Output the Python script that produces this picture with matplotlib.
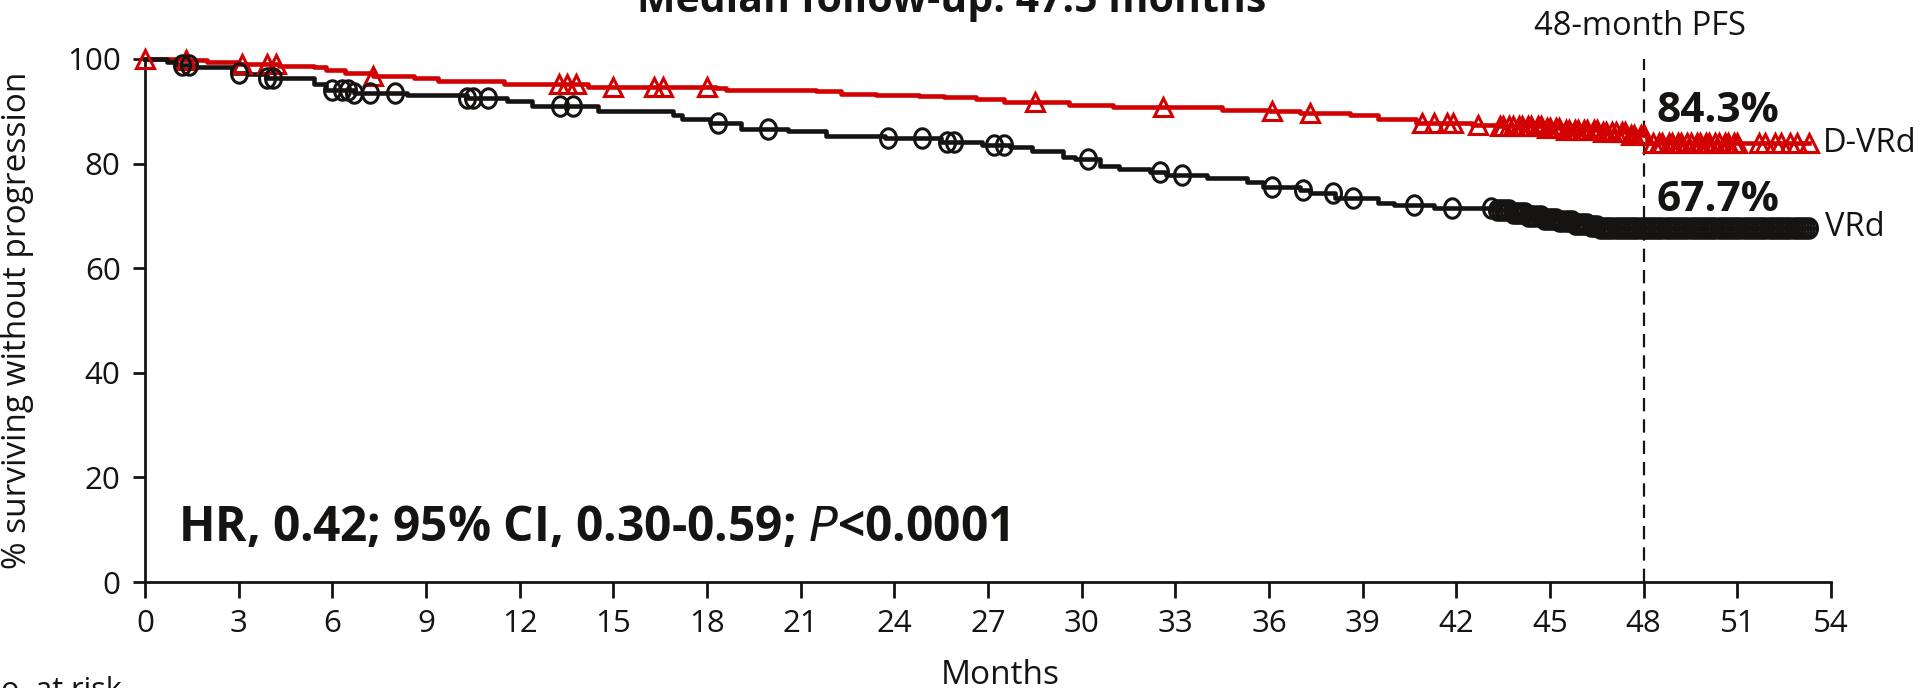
import numpy as np
import matplotlib
matplotlib.use("Agg")
import matplotlib.pyplot as plt
from matplotlib.path import Path

plt.rcParams['font.family'] = ['Open Sans', 'DejaVu Sans']

# D-VRd Kaplan-Meier steps (months, % progression free)
dvrd_t = [0, 1.2, 2.0, 3.0, 4.3, 5.4, 5.8, 6.4, 7.3, 8.6, 9.4, 11.5, 14.2, 18.3, 18.6,
          21.5, 22.3, 23.4, 24.8, 25.6, 26.6, 27.5, 29.6, 31.0, 34.5, 36.0, 37.0, 38.6,
          39.5, 40.7, 42.5, 43.4, 44.9, 45.5, 46.6, 47.6, 48.1]
dvrd_s = [100, 99.8, 99.5, 99.1, 98.7, 98.4, 97.9, 97.3, 96.8, 96.3, 95.8, 95.2, 94.7, 94.4, 94.1,
          93.8, 93.4, 93.2, 93.0, 92.7, 92.3, 91.8, 91.3, 90.8, 90.3, 90.0, 89.6, 89.2,
          88.5, 87.7, 87.4, 87.1, 86.8, 86.4, 86.1, 85.4, 83.9]
dvrd_cens = [0, 1.3, 3.1, 3.9, 4.2, 7.3, 13.25, 13.5, 13.8, 15.0, 16.3, 16.6, 18.0, 28.5, 32.6,
             36.1, 37.3, 40.9, 41.3, 41.7, 41.9, 42.7, 43.4, 43.5, 43.7, 43.8, 44.0, 44.1,
             44.3, 44.4, 44.6, 44.7, 44.9, 45.0, 45.2, 45.3, 45.5, 45.6, 45.8, 45.9, 46.1,
             46.2, 46.4, 46.5, 46.7, 46.8, 47.0, 47.1, 47.3, 47.4, 47.6, 47.7, 47.9, 48.0,
             48.3, 48.5, 48.6, 48.8, 48.9, 49.1, 49.2, 49.4, 49.5, 49.7, 49.8, 50.0, 50.1,
             50.3, 50.4, 50.6, 50.7, 50.9, 51.0, 51.7, 51.9, 52.2, 52.4, 52.7, 52.9, 53.3]

# VRd Kaplan-Meier steps
vrd_t = [0, 0.7, 1.0, 1.6, 2.8, 3.3, 3.9, 5.4, 5.8, 6.7, 8.4, 10.3, 11.6, 12.4, 14.5, 16.9,
         17.2, 18.1, 19.1, 20.6, 21.8, 23.7, 25.5, 26.8, 27.7, 28.4, 29.4, 29.8, 30.6, 31.2,
         32.2, 32.7, 34.0, 35.3, 35.8, 37.0, 37.3, 38.1, 39.5, 40.0, 41.3, 43.3, 43.8, 44.3,
         44.8, 45.3, 45.8, 46.3, 46.6]
vrd_s = [100, 99.5, 98.9, 98.4, 97.3, 97.1, 96.3, 95.3, 94.1, 93.5, 93.2, 92.5, 91.9, 91.0, 90.0, 89.2,
         88.5, 87.8, 86.7, 86.3, 85.3, 84.8, 84.2, 83.6, 83.1, 82.5, 81.3, 80.8, 79.5, 78.9,
         78.4, 77.8, 77.3, 76.5, 75.6, 75.0, 74.3, 73.4, 72.5, 72.1, 71.5, 71.1, 70.6, 70.0,
         69.5, 69.0, 68.5, 68.0, 67.7]
vrd_cens = [1.2, 1.4, 3.0, 3.9, 4.1, 6.0, 6.3, 6.5, 6.7, 7.2, 8.0, 10.3, 10.5, 11.0, 13.3, 13.7,
            18.35, 19.95, 23.8, 24.9, 25.7, 25.9, 27.2, 27.5, 30.2, 32.5, 33.2, 36.1, 37.1,
            38.05, 38.7, 40.65, 41.85, 43.1, 43.3, 43.4, 43.5, 43.6, 43.7, 43.8, 43.9, 44.0,
            44.1, 44.2, 44.3, 44.4, 44.5, 44.6, 44.7, 44.8, 44.9, 45.0, 45.1, 45.2, 45.3,
            45.4, 45.5, 45.6, 45.7, 45.8, 45.9, 46.0, 46.1, 46.2, 46.3, 46.4, 46.5, 46.6,
            46.7, 46.8, 46.9, 47.0, 47.1, 47.2, 47.3, 47.4, 47.5, 47.6, 47.7, 47.8, 47.9,
            48.0, 48.1, 48.2, 48.3, 48.4, 48.5, 48.6, 48.7, 48.8, 48.9, 49.0, 49.1, 49.2,
            49.3, 49.4, 49.5, 49.6, 49.7, 49.8, 49.9, 50.0, 50.1, 50.2, 50.3, 50.4, 50.5,
            50.6, 50.7, 50.8, 50.9, 51.0, 51.1, 51.2, 51.3, 51.4, 51.5, 51.6, 51.7, 51.8,
            51.9, 52.0, 52.1, 52.2, 52.3, 52.4, 52.5, 52.6, 52.7, 52.8, 52.9, 53.0, 53.1,
            53.2, 53.3]

x_ticks = list(range(0, 55, 3))
y_ticks = [0, 20, 40, 60, 80, 100]

RED = '#d20000'
BLACK = '#161413'

W, H = 1926, 688
fig = plt.figure(figsize=(W / 100, H / 100), dpi=100)
ax = fig.add_axes([145 / W, 1 - 582 / H, (1831 - 145) / W, (582 - 59) / H])


def at(times, surv, c):
    idx = np.searchsorted(times, c, side='right') - 1
    return np.array(surv)[idx]


th = np.linspace(0, 2 * np.pi, 61)
ellipse = Path(np.column_stack([0.82 * np.cos(th), np.sin(th)]), closed=True)

for t, s, cens, col, mk, ms, end in [
        (dvrd_t, dvrd_s, dvrd_cens, RED, '^', 13.5, 53.3),
        (vrd_t, vrd_s, vrd_cens, BLACK, ellipse, 14, 53.3)]:
    tt = list(t) + [end]
    ss = list(s) + [s[-1]]
    ax.step(tt, ss, where='post', color=col, lw=3.3, clip_on=False, zorder=3)
    c = np.array(cens)
    ax.plot(c, at(t, s, c), ls='none', marker=mk, ms=ms, mfc='none', mec=col,
            mew=2.2, clip_on=False, zorder=4)

ax.plot([48, 48], [0, 100], color=BLACK, lw=1.6, ls=(0, (6, 3.6)), zorder=2)

ax.set_xlim(0, 54)
ax.set_ylim(0, 100)
ax.set_xticks(x_ticks)
ax.set_yticks(y_ticks)
for sp in ['top', 'right']:
    ax.spines[sp].set_visible(False)
for sp in ['left', 'bottom']:
    ax.spines[sp].set_linewidth(2)
    ax.spines[sp].set_color(BLACK)
ax.tick_params(axis='x', length=11.5, width=2, pad=8, labelsize=22.5, colors=BLACK)
ax.tick_params(axis='y', length=8.5, width=2, pad=9, labelsize=22.5, colors=BLACK)

ax.set_ylabel('% surviving without progression', fontsize=24, color=BLACK)
ax.yaxis.set_label_coords(-(145 - 34) / (1831 - 145), 0.5)

fig.text(1000 / W, 1 - 684 / H, 'Months', ha='center', va='baseline', fontsize=24, color=BLACK)
fig.text(-22 / W, 1 - 676 / H, 'No. at risk', ha='left', va='top', fontsize=22, color=BLACK)
fig.text(952 / W, 1 - 12 / H, 'Median follow-up: 47.5 months', ha='center', va='baseline',
         fontsize=29.5, fontweight='bold', color=BLACK)
fig.text(1640 / W, 1 - 35 / H, '48-month PFS', ha='center', va='baseline', fontsize=23.5, color=BLACK)

ax.text(1.05, 7.8, 'HR, 0.42; 95% CI, 0.30-0.59; $\\mathit{P}$<0.0001', fontsize=34.5,
        fontweight='bold', color=BLACK, va='baseline', ha='left')
ax.text(48.4, 88.0, '84.3%', fontsize=30.5, fontweight='bold', color=BLACK, va='baseline')
ax.text(48.4, 71.0, '67.7%', fontsize=30.5, fontweight='bold', color=BLACK, va='baseline')
ax.text(53.75, dvrd_s[-1], 'D-VRd', fontsize=23.5, color=BLACK, va='center', clip_on=False)
ax.text(53.8, vrd_s[-1], 'VRd', fontsize=23.5, color=BLACK, va='center', clip_on=False)

fig.savefig('out.png', dpi=100)
